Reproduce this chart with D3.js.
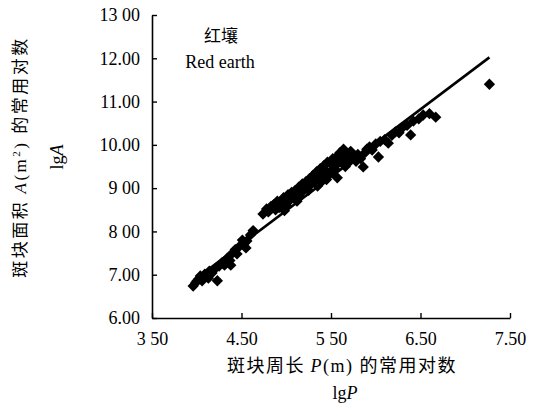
<!DOCTYPE html>
<html>
<head>
    <meta charset="UTF-8">
    <title>Red earth lgA vs lgP</title>
    <script src="https://d3js.org/d3.v7.min.js"></script>
    <style>
        body {
            margin: 0;
            padding: 0;
            background: #fff;
        }
        .tick-label {
            font-family: "Liberation Serif", "Times New Roman", serif;
            font-size: 18px;
            fill: #000;
        }
        .cjk {
            font-family: "Noto Sans CJK SC", sans-serif;
        }
        .serif {
            font-family: "Liberation Serif", "Times New Roman", serif;
        }
    </style>
</head>
<body>
    <svg id="chart" width="536" height="404"></svg>

    <script>
        // axis ticks as printed
        const xTicks = [3.5, 4.5, 5.5, 6.5, 7.5];
        const xTickLabels = ["3 50", "4.50", "5 50", "6.50", "7.50"];
        const yTicks = [6, 7, 8, 9, 10, 11, 12, 13];
        const yTickLabels = ["6.00", "7.00", "8 00", "9 00", "10.00", "11.00", "12.00", "13 00"];

        // lgP (x) and lgA (y) of the patches
        const lgP = [3.96, 3.99, 4.02, 4.04, 4.06, 4.09, 4.12, 4.14, 4.17, 4.20,
                     4.23, 4.25, 4.28, 4.31, 4.34, 4.37, 4.40, 4.43, 4.45, 4.48,
                     4.51, 4.53, 4.56, 4.60, 4.63, 4.74, 4.78, 4.80, 4.83, 4.86,
                     4.88, 4.90, 4.92, 4.95, 4.97, 5.00, 5.02, 5.04, 5.06, 5.08,
                     5.10, 5.12, 5.14, 5.16, 5.18, 5.20, 5.22, 5.24, 5.26, 5.28,
                     5.30, 5.32, 5.34, 5.36, 5.38, 5.40, 5.42, 5.44, 5.46, 5.48,
                     5.50, 5.52, 5.54, 5.56, 5.58, 5.60, 5.62, 5.64, 5.66, 5.68,
                     5.57, 5.45, 5.35, 5.25, 5.70, 5.72, 5.75, 5.78, 5.80, 5.83,
                     5.86, 5.88, 5.90, 5.93, 5.96, 6.00, 6.03, 6.05, 6.10, 6.14,
                     6.18, 6.22, 6.26, 6.30, 6.35, 6.39, 6.42, 6.48, 6.53, 6.60,
                     6.67, 7.27, 4.13, 4.38, 4.55, 4.98, 5.15, 5.38, 5.52, 5.64];
        const lgA = [6.74, 6.82, 6.90, 6.97, 6.86, 7.01, 6.95, 7.08, 7.04, 7.13,
                     6.86, 7.20, 7.27, 7.22, 7.38, 7.33, 7.50, 7.58, 7.48, 7.66,
                     7.80, 7.72, 7.78, 7.92, 8.02, 8.40, 8.52, 8.45, 8.58, 8.62,
                     8.50, 8.70, 8.55, 8.66, 8.78, 8.60, 8.85, 8.72, 8.90, 8.80,
                     8.95, 8.70, 9.02, 8.88, 9.10, 8.98, 9.15, 9.05, 9.22, 9.10,
                     9.30, 9.18, 9.38, 9.25, 9.45, 9.32, 9.52, 9.40, 9.60, 9.35,
                     9.55, 9.68, 9.45, 9.72, 9.58, 9.82, 9.65, 9.90, 9.50, 9.75,
                     9.24, 9.20, 9.05, 8.95, 9.60, 9.85, 9.70, 9.62, 9.78, 9.68,
                     9.49, 9.82, 9.90, 9.95, 9.88, 10.02, 9.72, 10.08, 10.12, 10.04,
                     10.22, 10.30, 10.28, 10.40, 10.45, 10.23, 10.55, 10.60, 10.69, 10.72,
                     10.64, 11.40, 6.92, 7.22, 7.62, 8.48, 8.80, 9.12, 9.40, 9.78];

        // fitted line lgA = a + b * lgP
        const fitA = 0.68;
        const fitB = 1.56;
        const fitRange = [3.95, 7.27];

        const svg = d3.select("#chart");
        const margin = { left: 152, top: 15, right: 26, bottom: 86 };
        const width = 536 - margin.left - margin.right;
        const height = 404 - margin.top - margin.bottom;

        const g = svg.append("g")
            .attr("transform", `translate(${margin.left},${margin.top})`);

        const x = d3.scaleLinear().domain([3.5, 7.5]).range([0, width]);
        const y = d3.scaleLinear().domain([6, 13]).range([height, 0]);

        // points
        const points = lgP.map((p, i) => ({ p, a: lgA[i] }));
        g.selectAll(".pt")
            .data(points)
            .enter()
            .append("path")
            .attr("class", "pt")
            .attr("d", d3.symbol().type(d3.symbolSquare).size(64))
            .attr("transform", d => `translate(${x(d.p)},${y(d.a)}) rotate(45)`)
            .attr("fill", "#000");

        // regression line
        g.append("line")
            .attr("x1", x(fitRange[0]))
            .attr("y1", y(fitA + fitB * fitRange[0]))
            .attr("x2", x(fitRange[1]))
            .attr("y2", y(fitA + fitB * fitRange[1]))
            .attr("stroke", "#000")
            .attr("stroke-width", 2.6);

        // axes, ticks inside
        const xAxis = g.append("g")
            .attr("transform", `translate(0,${height})`)
            .call(d3.axisBottom(x)
                .tickValues(xTicks)
                .tickSizeInner(-5)
                .tickSizeOuter(0)
                .tickPadding(14)
                .tickFormat((d, i) => xTickLabels[i]));

        const yAxis = g.append("g")
            .call(d3.axisLeft(y)
                .tickValues(yTicks)
                .tickSizeInner(-5)
                .tickSizeOuter(0)
                .tickPadding(12)
                .tickFormat((d, i) => yTickLabels[i]));

        [xAxis, yAxis].forEach(ax => {
            ax.select(".domain").attr("stroke", "#000").attr("stroke-width", 1.6);
            ax.selectAll(".tick line").attr("stroke", "#000").attr("stroke-width", 1.4);
            ax.selectAll(".tick text").attr("class", "tick-label").attr("font-size", null).attr("font-family", null);
        });

        // legend text
        g.append("text")
            .attr("class", "cjk")
            .attr("x", 69)
            .attr("y", 27)
            .attr("text-anchor", "middle")
            .attr("font-size", 17)
            .text("红壤");
        g.append("text")
            .attr("class", "serif")
            .attr("x", 68)
            .attr("y", 53)
            .attr("text-anchor", "middle")
            .attr("font-size", 18)
            .text("Red earth");

        // x-axis title
        const xTitle = svg.append("text")
            .attr("x", 342)
            .attr("y", 372)
            .attr("text-anchor", "middle")
            .attr("font-size", 18)
            .attr("letter-spacing", 1.5);
        xTitle.append("tspan").attr("class", "cjk").text("斑块周长 ");
        xTitle.append("tspan").attr("class", "serif").attr("font-style", "italic").text("P");
        xTitle.append("tspan").attr("class", "serif").text("(m) ");
        xTitle.append("tspan").attr("class", "cjk").text("的常用对数");

        const xSub = svg.append("text")
            .attr("x", 345)
            .attr("y", 399)
            .attr("text-anchor", "middle")
            .attr("font-size", 18)
            .attr("class", "serif");
        xSub.append("tspan").text("lg");
        xSub.append("tspan").attr("font-style", "italic").text("P");

        // y-axis title
        const yTitle = svg.append("text")
            .attr("transform", "translate(26,157) rotate(-90)")
            .attr("text-anchor", "middle")
            .attr("font-size", 17)
            .attr("letter-spacing", 2.5);
        yTitle.append("tspan").attr("class", "cjk").text("斑块面积 ");
        yTitle.append("tspan").attr("class", "serif").attr("font-style", "italic").text("A");
        yTitle.append("tspan").attr("class", "serif").text("(m");
        yTitle.append("tspan").attr("class", "serif").attr("font-size", 11).attr("dy", -6).text("2");
        yTitle.append("tspan").attr("class", "serif").attr("dy", 6).text(") ");
        yTitle.append("tspan").attr("class", "cjk").text("的常用对数");

        const ySub = svg.append("text")
            .attr("transform", "translate(63,157) rotate(-90)")
            .attr("text-anchor", "middle")
            .attr("font-size", 18)
            .attr("class", "serif");
        ySub.append("tspan").text("lg");
        ySub.append("tspan").attr("font-style", "italic").text("A");
    </script>
</body>
</html>
